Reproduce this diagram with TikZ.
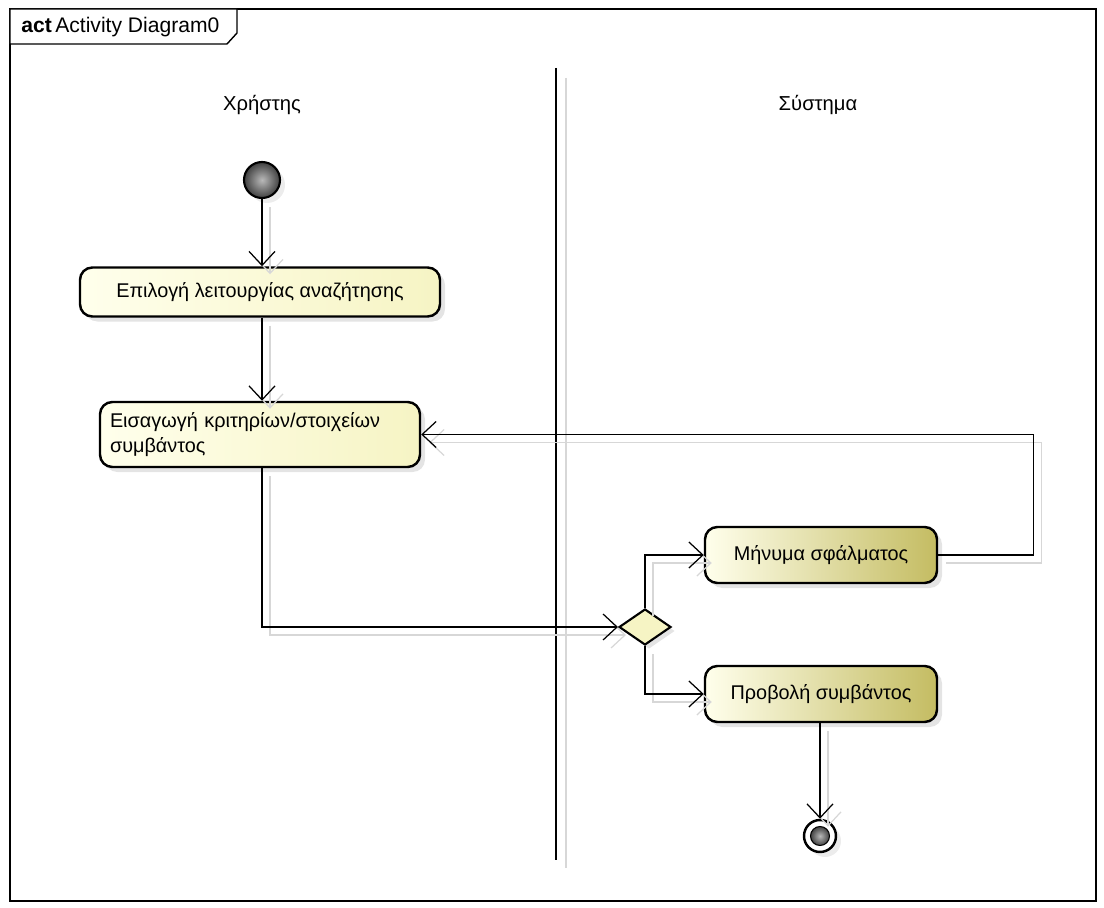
\documentclass[tikz,border=0pt]{standalone}
\usepackage{fontspec}
\setmainfont{Liberation Sans}
\usepackage{tikz}
\usetikzlibrary{shapes, arrows.meta, positioning, calc, shadows}

\definecolor{actpale}{RGB}{255, 255, 236}
\definecolor{actcream}{RGB}{246, 244, 196}
\definecolor{sysolive}{RGB}{196, 188, 98}
\definecolor{ghostgray}{RGB}{215, 215, 215}

\tikzset{
  actbox/.style={draw, line width=1.4pt, rounded corners=7pt, font=\fontsize{11.3}{14}\selectfont,
    drop shadow={shadow xshift=0.1cm, shadow yshift=-0.1cm, fill=gray!35, opacity=0.6}},
  userbox/.style={actbox, left color=actpale, right color=actcream},
  sysbox/.style={actbox, left color=actpale, right color=sysolive},
  flow/.style={line width=0.7pt, -{Straight Barb[length=2.8mm, width=5.2mm]},
    preaction={draw=ghostgray, line width=0.7pt, transform canvas={shift={(0.16,-0.16)}}}},
  lane/.style={font=\fontsize{11.5}{13}\selectfont}
}

\begin{document}
\begin{tikzpicture}
  \useasboundingbox (0,0) rectangle (22.08,-18.16);

  % frame
  \draw[line width=0.8pt] (0.20,-0.18) rectangle (21.92,-18.02);
  \draw[line width=0.8pt, fill=white] (0.20,-0.18) -- (4.74,-0.18) -- (4.74,-0.66) -- (4.54,-0.88) -- (0.20,-0.88) -- cycle;
  \node[anchor=west, font=\fontsize{12}{13}\selectfont, inner sep=0pt] (title) at (0.42,-0.54) {\textbf{act}\,Activity Diagram0};

  % swimlanes
  \draw[ghostgray, line width=1pt] (11.32,-1.56) -- (11.32,-17.36);
  \draw[line width=1pt] (11.12,-1.36) -- (11.12,-17.20);
  \node[lane] (user) at (5.24,-2.10) {Χρήστης};
  \node[lane] (system) at (16.36,-2.10) {Σύστημα};

  % initial
  \node[circle, draw, line width=1.2pt, inner color=gray!55, outer color=black!75, minimum size=0.72cm, inner sep=0pt,
    drop shadow={shadow xshift=0.1cm, shadow yshift=-0.1cm, fill=gray!30, opacity=0.5}] (init) at (5.24,-3.60) {};

  % user actions
  \node[userbox, minimum width=7.2cm, minimum height=0.98cm] (select) at (5.20,-5.84) {Επιλογή λειτουργίας αναζήτησης};
  \node[userbox, minimum width=6.4cm, minimum height=1.30cm, text width=6.0cm, align=left] (criteria) at (5.20,-8.69)
    {Εισαγωγή κριτηρίων/στοιχείων\\συμβάντος};

  % decision
  \node[diamond, draw, line width=1.2pt, fill=actcream, minimum width=1.04cm, minimum height=0.72cm, inner sep=0pt,
    drop shadow={shadow xshift=0.08cm, shadow yshift=-0.08cm, fill=gray!35, opacity=0.6}] (check) at (12.90,-12.54) {};

  % system actions
  \node[sysbox, minimum width=4.64cm, minimum height=1.12cm] (error) at (16.42,-11.10) {Μήνυμα σφάλματος};
  \node[sysbox, minimum width=4.64cm, minimum height=1.12cm] (show) at (16.42,-13.88) {Προβολή συμβάντος};

  % final
  \node[circle, draw, line width=1.4pt, fill=white, minimum size=0.64cm, inner sep=0pt,
    drop shadow={shadow xshift=0.1cm, shadow yshift=-0.1cm, fill=gray!30, opacity=0.5}] (done) at (16.40,-16.72) {};
  \node[circle, draw, line width=0.6pt, inner color=gray!55, outer color=black!75, minimum size=0.38cm, inner sep=0pt] (donein) at (done) {};

  % flows
  \draw[flow] (init) -- (init |- select.north);
  \draw[flow] (init |- select.south) -- (init |- criteria.north);
  \draw[flow] (init |- criteria.south) |- (check.west);
  \draw[flow] (check.north) |- (error.west);
  \draw[flow] (check.south) |- (show.west);
  \draw[flow] (error.east) -- ++(1.90,0) |- (criteria.east);
  \draw[flow] (show.south -| done) -- (done.north);
\end{tikzpicture}
\end{document}
